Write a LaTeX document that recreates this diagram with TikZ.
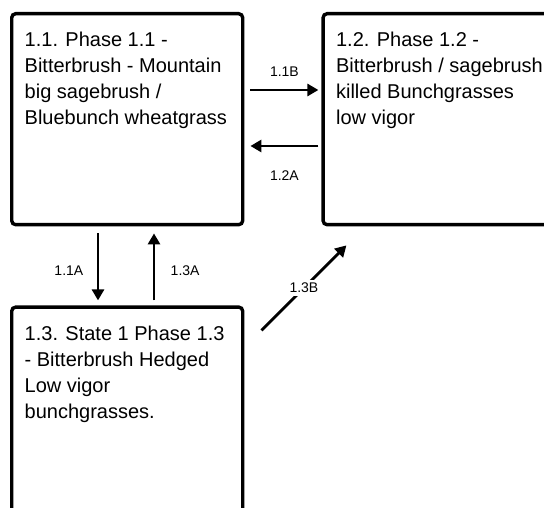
\documentclass[tikz,border=0pt]{standalone}
\usepackage{fontspec}
\setmainfont{Liberation Sans}
\usetikzlibrary{positioning,arrows.meta}
\newcommand{\phasetext}[3]{\parbox[t][#2][t]{#1}{\fontsize{20}{26}\selectfont\raggedright\strut #3}}
\begin{document}
\begin{tikzpicture}[x=1pt,y=1pt,
    box/.style={draw,line width=3.4pt,rounded corners=4pt,anchor=north west,inner xsep=13pt,inner ysep=15pt,align=left},
    arr/.style={line width=2.8pt,-{Triangle[length=11pt,width=12pt]}},
    lbl/.style={font=\fontsize{14}{16}\selectfont}]
  % Definitions
  \def\bw{205pt}
  \def\bh{181pt}
  % Frame
  \clip (0,0) rectangle (544,508);
  % Phase boxes
  \node[box] (p11) at (10,496) {\phasetext{\bw}{\bh}{1.1. Phase 1.1 -\\ Bitterbrush - Mountain\\ big sagebrush /\\ Bluebunch wheatgrass}};
  \node[box,anchor=center,right=77pt of p11] (p12) {\phasetext{230pt}{\bh}{1.2. Phase 1.2 -\\ Bitterbrush / sagebrush\\ killed Bunchgrasses\\ low vigor}};
  \node[box,anchor=center,below=79pt of p11] (p13) {\phasetext{\bw}{200pt}{1.3. State 1 Phase 1.3\\ - Bitterbrush Hedged\\ Low vigor\\ bunchgrasses.}};
  % Transitions
  \draw[arr] ([shift={(6,-78)}]p11.north east) -- ([shift={(-3,-78)}]p12.north west) node[lbl,midway,above=9pt] {1.1B};
  \draw[arr] ([shift={(-3,-134)}]p12.north west) -- ([shift={(6,-134)}]p11.north east) node[lbl,midway,below=20pt] {1.2A};
  \draw[arr] ([shift={(88,-7)}]p11.south west) -- ([shift={(88,5)}]p13.north west) node[lbl,pos=0.55,left=10pt] {1.1A};
  \draw[arr] ([shift={(144,5)}]p13.north west) -- ([shift={(144,-7)}]p11.south west) node[lbl,pos=0.45,right=12pt] {1.3A};
  \draw[arr] ([shift={(17,-25)}]p13.north east) -- ([shift={(25,-19)}]p12.south west) node[lbl,midway,fill=white] {1.3B};
\end{tikzpicture}
\end{document}
